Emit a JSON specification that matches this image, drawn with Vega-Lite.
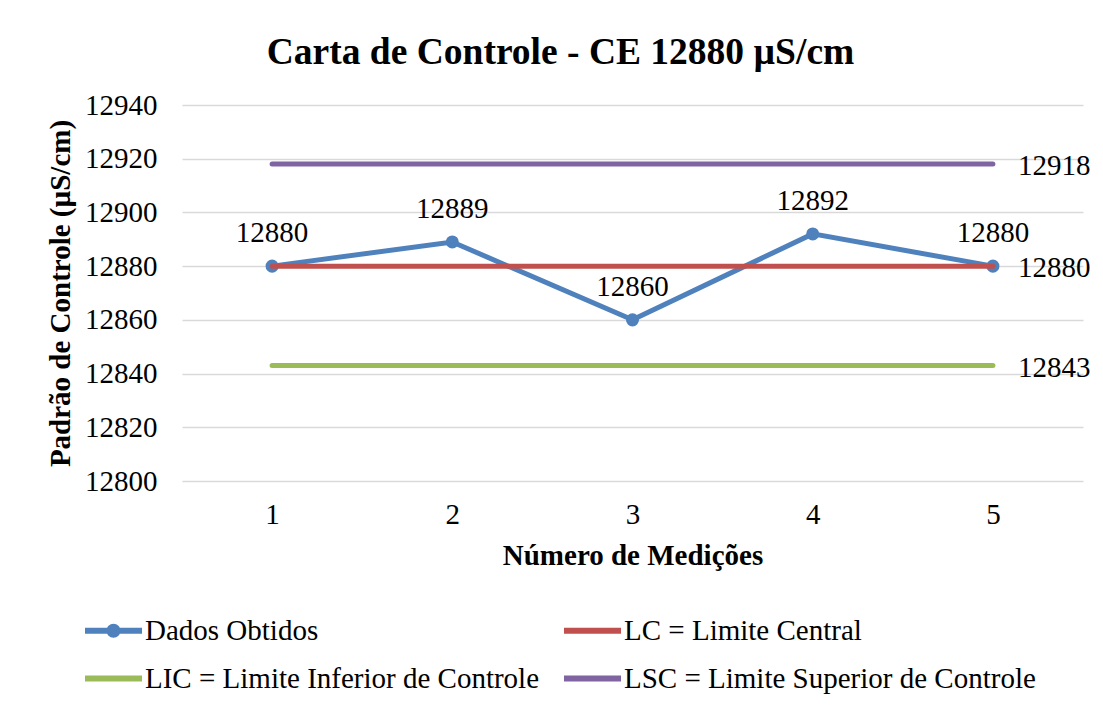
{
  "$schema": "https://vega.github.io/schema/vega-lite/v6.json",
  "autosize": {"type": "none"},
  "width": 901,
  "height": 376,
  "padding": {"left": 182, "top": 105, "right": 20, "bottom": 227},
  "background": "white",
  "config": {
    "font": "Liberation Serif",
    "view": {"stroke": null},
    "axis": {"labelFont": "Liberation Serif", "titleFont": "Liberation Serif", "labelColor": "black", "titleColor": "black"},
    "legend": {"labelFont": "Liberation Serif"}
  },
  "title": {
    "text": "Carta de Controle - CE 12880 µS/cm",
    "font": "Liberation Serif",
    "fontSize": 37.5,
    "fontWeight": "bold",
    "color": "black",
    "anchor": "middle",
    "frame": "group",
    "dx": -72,
    "offset": 20
  },
  "data": {
    "values": [
      {"n": 1, "series": "Dados Obtidos", "value": 12880},
      {"n": 2, "series": "Dados Obtidos", "value": 12889},
      {"n": 3, "series": "Dados Obtidos", "value": 12860},
      {"n": 4, "series": "Dados Obtidos", "value": 12892},
      {"n": 5, "series": "Dados Obtidos", "value": 12880},
      {"n": 1, "series": "LC = Limite Central", "value": 12880},
      {"n": 2, "series": "LC = Limite Central", "value": 12880},
      {"n": 3, "series": "LC = Limite Central", "value": 12880},
      {"n": 4, "series": "LC = Limite Central", "value": 12880},
      {"n": 5, "series": "LC = Limite Central", "value": 12880},
      {"n": 1, "series": "LIC = Limite Inferior de Controle", "value": 12843},
      {"n": 2, "series": "LIC = Limite Inferior de Controle", "value": 12843},
      {"n": 3, "series": "LIC = Limite Inferior de Controle", "value": 12843},
      {"n": 4, "series": "LIC = Limite Inferior de Controle", "value": 12843},
      {"n": 5, "series": "LIC = Limite Inferior de Controle", "value": 12843},
      {"n": 1, "series": "LSC = Limite Superior de Controle", "value": 12918},
      {"n": 2, "series": "LSC = Limite Superior de Controle", "value": 12918},
      {"n": 3, "series": "LSC = Limite Superior de Controle", "value": 12918},
      {"n": 4, "series": "LSC = Limite Superior de Controle", "value": 12918},
      {"n": 5, "series": "LSC = Limite Superior de Controle", "value": 12918}
    ]
  },
  "encoding": {
    "x": {
      "field": "n",
      "type": "ordinal",
      "scale": {"type": "point", "padding": 0.5},
      "axis": {
        "title": "Número de Medições",
        "titleFontSize": 29,
        "titleFontWeight": "bold",
        "titlePadding": 12,
        "labelFontSize": 29,
        "labelAngle": 0,
        "labelPadding": 19,
        "domain": false,
        "ticks": false,
        "grid": false
      }
    },
    "y": {
      "field": "value",
      "type": "quantitative",
      "scale": {"domain": [12800, 12940], "nice": false, "zero": false},
      "axis": {
        "title": "Padrão de Controle (µS/cm)",
        "titleFontSize": 29,
        "titleFontWeight": "bold",
        "titlePadding": 9,
        "labelFontSize": 29,
        "labelPadding": 25,
        "values": [12800, 12820, 12840, 12860, 12880, 12900, 12920, 12940],
        "format": "d",
        "domain": false,
        "ticks": false,
        "grid": true,
        "gridColor": "#D9D9D9",
        "gridWidth": 1.5
      }
    }
  },
  "layer": [
    {
      "transform": [{"filter": "datum.series === 'Dados Obtidos'"}],
      "mark": {"type": "point", "shape": "circle", "filled": true, "size": 170, "color": "#4F81BD", "opacity": 1}
    },
    {
      "mark": {"type": "line", "strokeWidth": 5, "strokeCap": "round"},
      "encoding": {
        "color": {
          "field": "series",
          "type": "nominal",
          "scale": {
            "domain": ["Dados Obtidos", "LC = Limite Central", "LIC = Limite Inferior de Controle", "LSC = Limite Superior de Controle"],
            "range": ["#4F81BD", "#C0504D", "#9BBB59", "#8064A2"]
          },
          "legend": {
            "title": null,
            "orient": "none",
            "legendX": -97,
            "legendY": 497,
            "direction": "horizontal",
            "columns": 2,
            "columnPadding": 24,
            "rowPadding": 4,
            "labelFontSize": 29,
            "labelColor": "black",
            "labelOffset": 3,
            "labelLimit": 600,
            "symbolSize": 3249,
            "encode": {
              "symbols": {
                "update": {
                  "shape": {"signal": "datum.value === 'Dados Obtidos' ? 'M-1,-0.105H1V0.105H-1Z M0.245,0A0.245,0.245 0 1,1 -0.245,0A0.245,0.245 0 1,1 0.245,0Z' : 'M-1,-0.105H1V0.105H-1Z'"},
                  "fill": {"scale": "color", "field": "value"},
                  "stroke": {"value": "transparent"},
                  "strokeWidth": {"value": 0},
                  "size": {"value": 3249},
                  "opacity": {"value": 1}
                }
              }
            }
          }
        }
      }
    },
    {
      "transform": [{"filter": "datum.series === 'Dados Obtidos'"}],
      "mark": {"type": "text", "fontSize": 29, "font": "Liberation Serif", "color": "black", "baseline": "alphabetic", "dy": -24},
      "encoding": {"text": {"field": "value", "type": "quantitative", "format": "d"}}
    },
    {
      "transform": [{"filter": "datum.series !== 'Dados Obtidos' && datum.n === 5"}],
      "mark": {"type": "text", "fontSize": 29, "font": "Liberation Serif", "color": "black", "align": "left", "baseline": "middle", "dx": 25, "dy": 2},
      "encoding": {"text": {"field": "value", "type": "quantitative", "format": "d"}}
    }
  ]
}
